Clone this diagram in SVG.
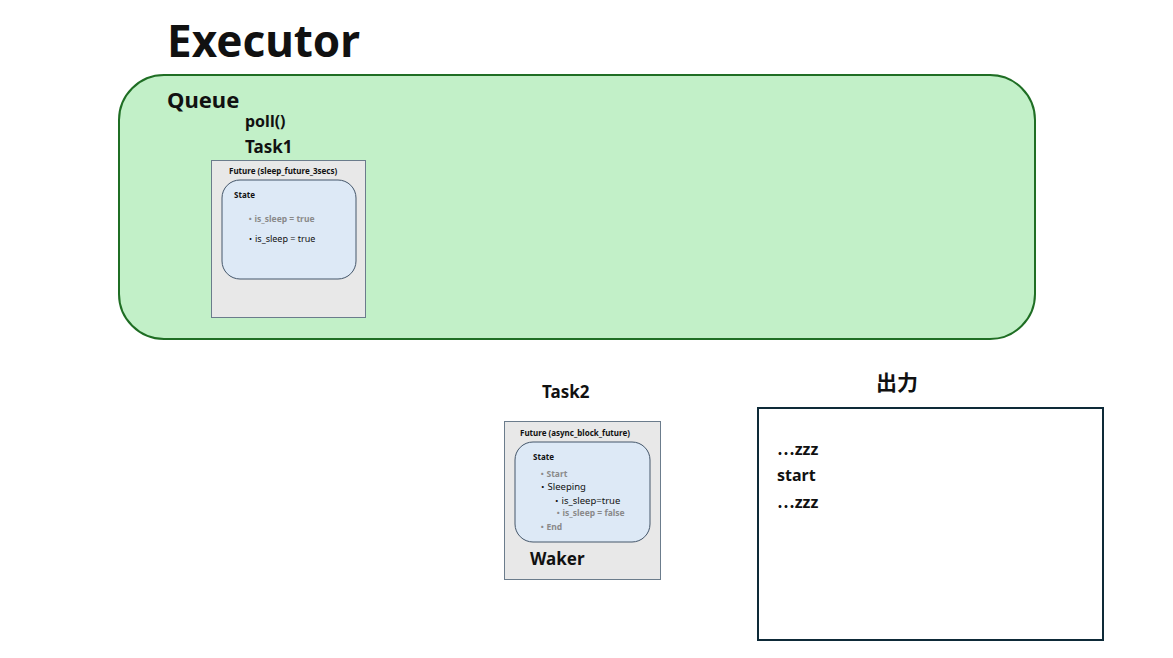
<svg xmlns="http://www.w3.org/2000/svg" width="1173" height="658" viewBox="0 0 1173 658">
<style>
text{font-family:"Noto Sans","Liberation Sans","Noto Sans CJK JP",sans-serif;fill:#111}
.b{font-weight:bold}
.jp{font-family:"Noto Sans CJK JP","Noto Sans",sans-serif}
.fut{fill:#e8e8e8;stroke:#6b7c8c;stroke-width:1}
.st{fill:#dde9f6;stroke:#44566a;stroke-width:1}
.s{font-size:8px;font-weight:bold}
.g{fill:#8a8a8a;font-weight:bold}
</style>
<rect width="1173" height="658" fill="#fff"/>
<text x="167" y="57" class="b" font-size="44">Executor</text>
<g id="queue">
<rect x="119" y="75" width="916" height="264" rx="45" fill="#c2f0c8" stroke="#1f6e24" stroke-width="2"/>
<text x="167" y="108" class="b" font-size="22">Queue</text>
<text x="245" y="127" font-size="16" class="b">poll()</text>
</g>
<g id="task1">
<text x="245" y="153" font-size="17" class="b">Task1</text>
<rect class="fut" x="211.5" y="160.5" width="154" height="157"/>
<text x="229" y="174" class="s">Future (sleep_future_3secs)</text>
<rect class="st" x="222" y="180" width="134" height="99" rx="18"/>
<text x="234" y="198" class="s">State</text>
<text x="246" y="222" font-size="8.5" class="g">・is_sleep = true</text>
<text x="246" y="242" font-size="9">・is_sleep = true</text>
</g>
<g id="task2">
<text x="542" y="398" font-size="17" class="b">Task2</text>
<rect class="fut" x="504.5" y="421.5" width="156" height="158"/>
<text x="520" y="436" class="s">Future (async_block_future)</text>
<rect class="st" x="515" y="442" width="135" height="100" rx="18"/>
<text x="533" y="460" class="s">State</text>
<text x="538" y="477" font-size="8.5" class="g">・Start</text>
<text x="538" y="490" font-size="9.5">・Sleeping</text>
<text x="552" y="504" font-size="9.5">・is_sleep=true</text>
<text x="554" y="516" font-size="8.5" class="g">・is_sleep = false</text>
<text x="538" y="530" font-size="8.5" class="g">・End</text>
<text x="530" y="565" font-size="17" class="b">Waker</text>
</g>
<g id="output">
<text x="876" y="390" font-size="21" class="b jp">出力</text>
<rect x="758" y="408" width="345" height="232" fill="#fff" stroke="#0e2a38" stroke-width="2"/>
<text x="777" y="455" font-size="16" class="b"><tspan class="jp">…</tspan>zzz</text>
<text x="777" y="481" font-size="16" class="b">start</text>
<text x="777" y="508" font-size="16" class="b"><tspan class="jp">…</tspan>zzz</text>
</g>
<g id="connectors"></g>
</svg>
